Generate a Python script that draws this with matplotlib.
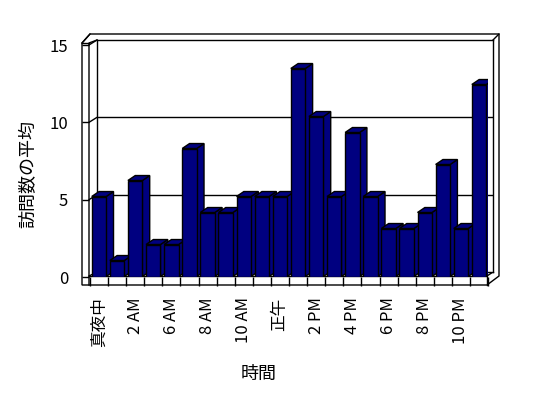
import matplotlib
matplotlib.use('Agg')
import matplotlib.pyplot as plt
from matplotlib.patches import Polygon, ConnectionPatch
import numpy as np

plt.rcParams['font.family'] = ['Noto Sans CJK JP', 'DejaVu Sans']

# data
hours = ['真夜中', '1 AM', '2 AM', '3 AM', '6 AM', '7 AM', '8 AM', '9 AM',
         '10 AM', '11 AM', '正午', '1 PM', '2 PM', '3 PM', '4 PM', '5 PM',
         '6 PM', '7 PM', '8 PM', '9 PM', '10 PM', '11 PM']
visits = [5, 1, 6, 2, 2, 8, 4, 4, 5, 5, 5, 13, 10, 5, 9, 5, 3, 3, 4, 7, 3, 12]
yticks = [0, 5, 10, 15]
xlabel = '時間'
ylabel = '訪問数の平均'

W, H = 548, 398
fig = plt.figure(figsize=(W / 100, H / 100), dpi=100)


def px_axes(x0, x1, y0, y1, z):
    # y measured from the top of the figure, in pixels
    return fig.add_axes([x0 / W, 1 - y1 / H, (x1 - x0) / W, (y1 - y0) / H], zorder=z)


# frame of the 3d box (pixel coords)
bg = px_axes(0, W, 0, H, 0)
bg.set_xlim(0, W)
bg.set_ylim(H, 0)
bg.axis('off')
lw = 1.0
bg.add_patch(Polygon([(82, 285), (82, 43), (90, 34), (499, 34), (499, 276), (487, 285)],
                     closed=True, fc='white', ec='black', lw=lw))
bg.plot([89, 89, 97], [285, 43, 40], color='black', lw=lw)
bg.plot([82, 89], [43, 43], color='black', lw=lw)
bg.plot([82, 90], [43, 34], color='black', lw=lw)
bg.plot([493, 499], [40, 34], color='black', lw=lw)
bg.plot([89, 487, 487], [276, 276, 285], color='black', lw=lw)
bg.plot([487, 493], [276, 272], color='black', lw=lw)
bg.plot([89, 97], [276, 272], color='black', lw=lw)

# back wall with gridlines
back = px_axes(97, 493, 40, 272, 1)
back.set_ylim(0, 15)
back.set_xlim(0, 1)
back.set_xticks([])
back.set_yticks([])
for s in back.spines.values():
    s.set_linewidth(lw)
for v in yticks[1:-1]:
    back.axhline(v, color='black', lw=lw)

# left wall front strip carries the value labels
left = px_axes(82, 89, 45, 277, 2)
left.set_ylim(0, 15)
left.patch.set_alpha(0)
for s in left.spines.values():
    s.set_visible(False)
left.set_xticks([])
left.set_yticks(yticks)
left.tick_params(axis='y', direction='in', length=5.0, width=lw, pad=10, labelsize=12)
for v in yticks[1:]:
    fig.add_artist(ConnectionPatch(xyA=(1, v), coordsA=left.get_yaxis_transform(),
                                   xyB=(0, v), coordsB=back.get_yaxis_transform(),
                                   arrowstyle='-', lw=lw, color='black'))

# bars
ax = px_axes(89.9, 488.1, 36.5, 276.5, 3)
ax.set_xlim(-0.5, len(visits) - 0.5)
ax.set_ylim(0, 15)
ax.patch.set_alpha(0)
for s in ax.spines.values():
    s.set_visible(False)
ax.set_yticks([])

x = np.arange(len(visits))
w = 0.8
ddx, ddy = 0.405, 0.31
navy = '#000080'
for i, v in enumerate(visits):
    xl, xr = x[i] - w / 2, x[i] + w / 2
    side = Polygon([(xr, 0), (xr + ddx, ddy), (xr + ddx, v + ddy), (xr, v)],
                   closed=True, fc=navy, ec='black', lw=lw, zorder=3 * i + 1)
    top = Polygon([(xl, v), (xr, v), (xr + ddx, v + ddy), (xl + ddx, v + ddy)],
                  closed=True, fc=navy, ec='black', lw=lw, zorder=3 * i + 2)
    ax.add_patch(side)
    ax.add_patch(top)
    ax.bar(x[i], v, width=w, color=navy, edgecolor='black', lw=lw, zorder=3 * i + 3)

ax.set_xticks(x[::2])
ax.set_xticklabels(hours[::2], rotation=90, fontsize=12)
ax.set_xticks(np.arange(-0.5, len(visits), 1), minor=True)
ax.tick_params(axis='x', which='major', length=0, pad=15)
ax.tick_params(axis='x', which='minor', direction='out', length=6.2, width=lw, color='black')

fig.text(259 / W, 1 - 374 / H, xlabel, ha='center', va='center', fontsize=13)
fig.text(28 / W, 1 - 174 / H, ylabel, ha='center', va='center', rotation=90, fontsize=13)

fig.savefig('out.png', dpi=100, facecolor='white')
